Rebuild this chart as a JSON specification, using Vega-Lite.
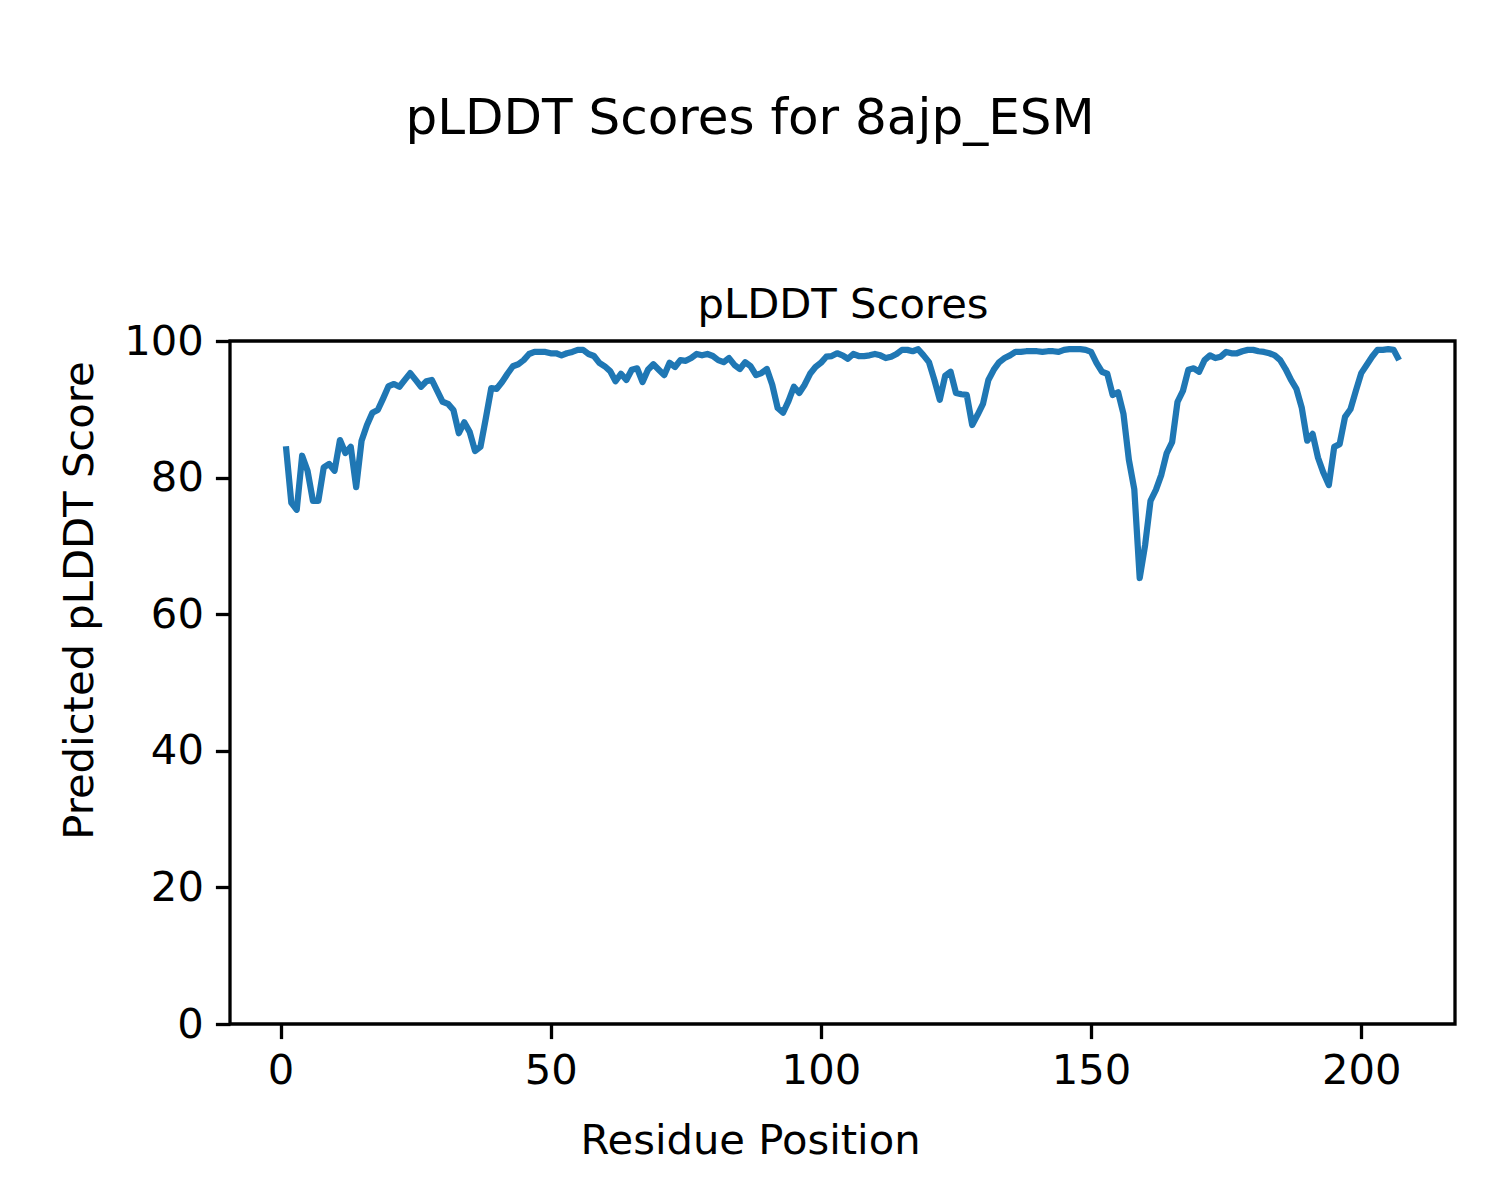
{
  "$schema": "https://vega.github.io/schema/vega-lite/v6.json",
  "width": 1225,
  "height": 683,
  "autosize": "none",
  "padding": {"left": 230, "top": 341, "right": 45, "bottom": 176},
  "background": "white",
  "title": {"text": "pLDDT Scores for 8ajp_ESM", "fontSize": 50, "font": "DejaVu Sans", "fontWeight": "normal", "color": "black", "anchor": "middle", "frame": "group", "dx": -92.5, "baseline": "alphabetic", "offset": 100},
  "config": {
    "view": {"stroke": "black", "strokeWidth": 3.3},
    "axis": {"grid": false, "domain": false, "labelFont": "DejaVu Sans", "labelFontSize": 41.7, "labelColor": "black", "titleFont": "DejaVu Sans", "titleFontSize": 41.7, "titleFontWeight": "normal", "titleColor": "black", "tickColor": "black", "tickSize": 14.6, "tickWidth": 3.3, "labelPadding": 12}
  },
  "data": {"values": [
    {"residue": 1, "plddt": 84.6}, {"residue": 2, "plddt": 76.3}, {"residue": 3, "plddt": 75.3}, {"residue": 4, "plddt": 83.2}, {"residue": 5, "plddt": 81.0},
    {"residue": 6, "plddt": 76.6}, {"residue": 7, "plddt": 76.6}, {"residue": 8, "plddt": 81.5}, {"residue": 9, "plddt": 82.0}, {"residue": 10, "plddt": 81.0},
    {"residue": 11, "plddt": 85.5}, {"residue": 12, "plddt": 83.6}, {"residue": 13, "plddt": 84.5}, {"residue": 14, "plddt": 78.6}, {"residue": 15, "plddt": 85.4},
    {"residue": 16, "plddt": 87.7}, {"residue": 17, "plddt": 89.5}, {"residue": 18, "plddt": 89.9}, {"residue": 19, "plddt": 91.6}, {"residue": 20, "plddt": 93.4},
    {"residue": 21, "plddt": 93.7}, {"residue": 22, "plddt": 93.3}, {"residue": 23, "plddt": 94.3}, {"residue": 24, "plddt": 95.3}, {"residue": 25, "plddt": 94.3},
    {"residue": 26, "plddt": 93.3}, {"residue": 27, "plddt": 94.1}, {"residue": 28, "plddt": 94.3}, {"residue": 29, "plddt": 92.7}, {"residue": 30, "plddt": 91.1},
    {"residue": 31, "plddt": 90.8}, {"residue": 32, "plddt": 89.9}, {"residue": 33, "plddt": 86.5}, {"residue": 34, "plddt": 88.1}, {"residue": 35, "plddt": 86.7},
    {"residue": 36, "plddt": 83.9}, {"residue": 37, "plddt": 84.5}, {"residue": 38, "plddt": 88.7}, {"residue": 39, "plddt": 93.1}, {"residue": 40, "plddt": 93.0},
    {"residue": 41, "plddt": 94.0}, {"residue": 42, "plddt": 95.2}, {"residue": 43, "plddt": 96.3}, {"residue": 44, "plddt": 96.6}, {"residue": 45, "plddt": 97.2},
    {"residue": 46, "plddt": 98.1}, {"residue": 47, "plddt": 98.4}, {"residue": 48, "plddt": 98.4}, {"residue": 49, "plddt": 98.4}, {"residue": 50, "plddt": 98.2},
    {"residue": 51, "plddt": 98.2}, {"residue": 52, "plddt": 97.9}, {"residue": 53, "plddt": 98.2}, {"residue": 54, "plddt": 98.4}, {"residue": 55, "plddt": 98.7},
    {"residue": 56, "plddt": 98.7}, {"residue": 57, "plddt": 98.1}, {"residue": 58, "plddt": 97.8}, {"residue": 59, "plddt": 96.8}, {"residue": 60, "plddt": 96.3},
    {"residue": 61, "plddt": 95.6}, {"residue": 62, "plddt": 94.1}, {"residue": 63, "plddt": 95.2}, {"residue": 64, "plddt": 94.3}, {"residue": 65, "plddt": 95.8},
    {"residue": 66, "plddt": 96.0}, {"residue": 67, "plddt": 94.0}, {"residue": 68, "plddt": 95.8}, {"residue": 69, "plddt": 96.6}, {"residue": 70, "plddt": 95.8},
    {"residue": 71, "plddt": 95.0}, {"residue": 72, "plddt": 96.8}, {"residue": 73, "plddt": 96.2}, {"residue": 74, "plddt": 97.2}, {"residue": 75, "plddt": 97.1},
    {"residue": 76, "plddt": 97.5}, {"residue": 77, "plddt": 98.1}, {"residue": 78, "plddt": 97.9}, {"residue": 79, "plddt": 98.1}, {"residue": 80, "plddt": 97.8},
    {"residue": 81, "plddt": 97.2}, {"residue": 82, "plddt": 96.9}, {"residue": 83, "plddt": 97.5}, {"residue": 84, "plddt": 96.5}, {"residue": 85, "plddt": 95.9},
    {"residue": 86, "plddt": 96.9}, {"residue": 87, "plddt": 96.3}, {"residue": 88, "plddt": 95.0}, {"residue": 89, "plddt": 95.3}, {"residue": 90, "plddt": 95.9},
    {"residue": 91, "plddt": 93.6}, {"residue": 92, "plddt": 90.2}, {"residue": 93, "plddt": 89.5}, {"residue": 94, "plddt": 91.2}, {"residue": 95, "plddt": 93.3},
    {"residue": 96, "plddt": 92.4}, {"residue": 97, "plddt": 93.6}, {"residue": 98, "plddt": 95.2}, {"residue": 99, "plddt": 96.2}, {"residue": 100, "plddt": 96.8},
    {"residue": 101, "plddt": 97.7}, {"residue": 102, "plddt": 97.8}, {"residue": 103, "plddt": 98.2}, {"residue": 104, "plddt": 97.9}, {"residue": 105, "plddt": 97.4},
    {"residue": 106, "plddt": 98.1}, {"residue": 107, "plddt": 97.8}, {"residue": 108, "plddt": 97.8}, {"residue": 109, "plddt": 97.9}, {"residue": 110, "plddt": 98.1},
    {"residue": 111, "plddt": 97.9}, {"residue": 112, "plddt": 97.5}, {"residue": 113, "plddt": 97.7}, {"residue": 114, "plddt": 98.1}, {"residue": 115, "plddt": 98.7},
    {"residue": 116, "plddt": 98.7}, {"residue": 117, "plddt": 98.5}, {"residue": 118, "plddt": 98.8}, {"residue": 119, "plddt": 97.9}, {"residue": 120, "plddt": 96.9},
    {"residue": 121, "plddt": 94.3}, {"residue": 122, "plddt": 91.4}, {"residue": 123, "plddt": 94.9}, {"residue": 124, "plddt": 95.5}, {"residue": 125, "plddt": 92.4},
    {"residue": 126, "plddt": 92.2}, {"residue": 127, "plddt": 92.1}, {"residue": 128, "plddt": 87.7}, {"residue": 129, "plddt": 89.2}, {"residue": 130, "plddt": 90.8},
    {"residue": 131, "plddt": 94.3}, {"residue": 132, "plddt": 95.8}, {"residue": 133, "plddt": 96.9}, {"residue": 134, "plddt": 97.5}, {"residue": 135, "plddt": 97.9},
    {"residue": 136, "plddt": 98.4}, {"residue": 137, "plddt": 98.4}, {"residue": 138, "plddt": 98.5}, {"residue": 139, "plddt": 98.5}, {"residue": 140, "plddt": 98.5},
    {"residue": 141, "plddt": 98.4}, {"residue": 142, "plddt": 98.5}, {"residue": 143, "plddt": 98.5}, {"residue": 144, "plddt": 98.4}, {"residue": 145, "plddt": 98.7},
    {"residue": 146, "plddt": 98.8}, {"residue": 147, "plddt": 98.8}, {"residue": 148, "plddt": 98.8}, {"residue": 149, "plddt": 98.7}, {"residue": 150, "plddt": 98.4},
    {"residue": 151, "plddt": 96.8}, {"residue": 152, "plddt": 95.5}, {"residue": 153, "plddt": 95.2}, {"residue": 154, "plddt": 92.1}, {"residue": 155, "plddt": 92.5},
    {"residue": 156, "plddt": 89.3}, {"residue": 157, "plddt": 82.6}, {"residue": 158, "plddt": 78.3}, {"residue": 159, "plddt": 65.3}, {"residue": 160, "plddt": 70.1},
    {"residue": 161, "plddt": 76.6}, {"residue": 162, "plddt": 78.2}, {"residue": 163, "plddt": 80.4}, {"residue": 164, "plddt": 83.6}, {"residue": 165, "plddt": 85.2},
    {"residue": 166, "plddt": 91.1}, {"residue": 167, "plddt": 92.7}, {"residue": 168, "plddt": 95.8}, {"residue": 169, "plddt": 96.0}, {"residue": 170, "plddt": 95.5},
    {"residue": 171, "plddt": 97.2}, {"residue": 172, "plddt": 97.9}, {"residue": 173, "plddt": 97.5}, {"residue": 174, "plddt": 97.7}, {"residue": 175, "plddt": 98.4},
    {"residue": 176, "plddt": 98.2}, {"residue": 177, "plddt": 98.2}, {"residue": 178, "plddt": 98.5}, {"residue": 179, "plddt": 98.7}, {"residue": 180, "plddt": 98.7},
    {"residue": 181, "plddt": 98.5}, {"residue": 182, "plddt": 98.4}, {"residue": 183, "plddt": 98.2}, {"residue": 184, "plddt": 97.9}, {"residue": 185, "plddt": 97.2},
    {"residue": 186, "plddt": 95.9}, {"residue": 187, "plddt": 94.3}, {"residue": 188, "plddt": 93.0}, {"residue": 189, "plddt": 90.2}, {"residue": 190, "plddt": 85.4},
    {"residue": 191, "plddt": 86.4}, {"residue": 192, "plddt": 82.9}, {"residue": 193, "plddt": 80.7}, {"residue": 194, "plddt": 78.9}, {"residue": 195, "plddt": 84.5},
    {"residue": 196, "plddt": 84.9}, {"residue": 197, "plddt": 88.9}, {"residue": 198, "plddt": 90.0}, {"residue": 199, "plddt": 92.7}, {"residue": 200, "plddt": 95.3},
    {"residue": 201, "plddt": 96.5}, {"residue": 202, "plddt": 97.7}, {"residue": 203, "plddt": 98.7}, {"residue": 204, "plddt": 98.7}, {"residue": 205, "plddt": 98.8},
    {"residue": 206, "plddt": 98.7}, {"residue": 207, "plddt": 97.2}
  ]},
  "layer": [
    {
      "mark": {"type": "line", "color": "#1f77b4", "strokeWidth": 6.25, "strokeJoin": "round", "strokeCap": "butt"},
      "encoding": {
        "x": {"field": "residue", "type": "quantitative", "scale": {"domain": [-9.35, 217.35], "nice": false, "zero": false},
          "axis": {"orient": "bottom", "values": [0, 50, 100, 150, 200], "title": "Residue Position", "titleX": 520, "titleY": 129, "titleBaseline": "alphabetic", "titleAlign": "center", "titlePadding": 0}},
        "y": {"field": "plddt", "type": "quantitative", "scale": {"domain": [0, 100], "nice": false},
          "axis": {"values": [0, 20, 40, 60, 80, 100], "title": "Predicted pLDDT Score", "titleX": -138, "titleY": 259, "titleAngle": -90, "titleBaseline": "alphabetic", "titleAlign": "center"}}
      }
    },
    {
      "mark": {"type": "line", "opacity": 0},
      "encoding": {
        "x": {"field": "residue", "type": "quantitative", "scale": {"domain": [-9.35, 217.35], "nice": false, "zero": false},
          "axis": {"orient": "top", "labels": false, "ticks": false, "title": "pLDDT Scores", "titleX": 612.5, "titleY": -24, "titleBaseline": "alphabetic", "titleAlign": "center"}},
        "y": {"field": "plddt", "type": "quantitative", "scale": {"domain": [0, 100], "nice": false}, "axis": null}
      }
    }
  ],
  "resolve": {"scale": {"x": "independent", "y": "independent"}}
}
